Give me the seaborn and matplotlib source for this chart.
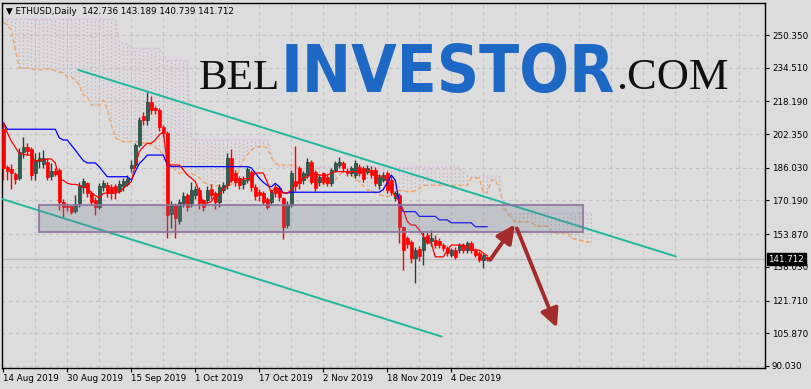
import numpy as np
import pandas as pd
import matplotlib
matplotlib.use("Agg")
import matplotlib.pyplot as plt
import matplotlib.transforms as mtransforms
from matplotlib import font_manager as fm
from matplotlib.patches import Rectangle
import seaborn as sns

# ---------------- data ----------------
symbol_title = "ETHUSD,Daily"
last_ohlc = ["142.736", "143.189", "140.739", "141.712"]
last_price = 141.712

# daily candles, day 0 = 14 Aug 2019
opens = [205, 186.5, 185.3, 183, 181, 193.5, 195.9, 195, 183.7, 189.5,
         188, 188.7, 182, 184.6, 185, 169.6, 167.5, 167.5, 165, 168.8,
         176.6, 178.5, 174, 170.4, 167.2, 176.6, 177.7, 176.6, 177, 175,
         177, 178, 185.8, 187.4, 197, 211.3, 209.2, 218, 215.1, 214,
         206, 202.7, 163.5, 168, 160.5, 168.8, 172.8, 168.8, 172.8, 175.3,
         170.4, 170.4, 175.8, 173.6, 169.6, 175.3, 177.7, 190.6, 183.3, 180.9,
         178, 180.1, 184.2, 176.9, 174.5, 173.7, 171, 169.6, 176.9, 176.1,
         171.2, 158.3, 168, 179.5, 185.8, 180, 182.5, 189, 184.2, 179.3,
         183.3, 181.7, 178.5, 185, 187.4, 188.2, 184.2, 183.4, 182.5, 186.6,
         185.8, 184.2, 185, 185, 177.7, 180.1, 183.3, 180.1, 171.6, 172.8,
         157.5, 151.9, 149.9, 142.2, 146.5, 146.2, 153.5, 150.5, 151.1, 150.6,
         148.6, 147, 143.8, 146.2, 146.2, 148.6, 146.2, 149.4, 146.2, 144.6,
         141.4, 142.736]
highs = [208, 187.5, 188, 184, 195.4, 200.8, 198.2, 196, 193, 193.5,
         194.6, 191, 188.2, 186, 186, 171, 169, 168, 173, 179.3,
         181, 179, 175, 172, 178.8, 180.1, 179, 178, 178, 180,
         181, 182.5, 189.8, 198, 210.5, 213, 222.6, 221, 216, 215,
         207, 204, 170, 169, 171, 174.5, 174, 179.3, 177, 176.5,
         171, 177, 178, 175, 178, 179, 193, 195.3, 185, 182,
         182, 186.6, 185, 178, 176, 175, 172, 176, 178, 177,
         172, 170, 185, 196.6, 187, 184.5, 191, 190, 185, 183,
         184, 183, 186, 189.5, 191.5, 189.5, 186, 187, 190, 188,
         187, 187.5, 187, 186.5, 183, 184, 184.5, 182, 175, 174,
         158, 153, 151, 147.5, 148, 155, 155, 156, 153.5, 152,
         149.5, 148, 147, 147.5, 149.5, 149.5, 150.5, 150.5, 147, 145.5,
         144.5, 143.189]
lows = [180, 180, 176, 178, 180, 191, 192, 180, 180, 186,
        186, 180, 180, 182, 165.6, 162, 165, 163.5, 164, 167,
        174, 172, 168, 163, 166, 175, 172, 171, 171, 174,
        175, 177, 183.8, 186, 196, 207, 207, 212, 212, 204,
        201, 152, 157, 152, 159, 167, 165, 167, 171, 166,
        165, 169, 171, 166, 167, 174, 176, 179, 177, 176,
        176, 178.8, 175, 170.5, 170, 168, 166, 168, 172, 170,
        151.4, 157, 167, 175, 176, 178, 181, 178, 175, 177,
        178, 177, 177, 184, 186, 184, 182, 182, 181, 182,
        179, 183, 181, 177, 176, 179, 174, 173, 170, 149.5,
        136.5, 147, 139.8, 130, 141, 139, 149, 148, 147, 147,
        145.5, 143.5, 143, 142, 145, 145, 145, 145, 143, 140.5,
        137.3, 140.739]
closes = [186, 184.6, 183.4, 180.5, 193.8, 196.2, 194.3, 182.6, 189.8, 190.6,
          190.6, 181.7, 184.6, 183, 169.6, 167, 166.9, 164.8, 168.5, 177.7,
          179.6, 174, 169.6, 167.2, 177.2, 178.5, 173.7, 174, 174.5, 178.2,
          179.5, 180.6, 187.4, 197.1, 209.2, 209.2, 218.1, 214, 214, 206,
          202.7, 163.1, 168.3, 161.5, 169.6, 172.5, 167.2, 175.3, 175.8, 168.8,
          167.2, 175.3, 172.8, 169.3, 176.9, 177.7, 190.6, 180.1, 179.3, 177.7,
          180, 185.3, 176.9, 172.5, 172.9, 169.6, 167.2, 174.5, 173.7, 172.1,
          157.5, 168, 183.4, 177, 178.5, 183.3, 189, 179.3, 176.1, 181.7,
          179.3, 178.5, 185, 188.2, 189, 185.8, 183.4, 185.8, 188.2, 183.4,
          180.4, 185.8, 182.5, 178.5, 181.7, 182.5, 175.3, 174.5, 173.7, 157.5,
          146.2, 149, 142.2, 146.2, 143.5, 152.7, 150.3, 152, 148.6, 148.6,
          147, 144.6, 146.2, 143, 148.6, 146.2, 149.4, 146.2, 143.8, 141.4,
          143.8, 141.712]

# Ichimoku lines as drawn on the chart
tenkan = [208, 203, 199, 196, 193, 192.5, 192.2, 192.2, 189, 189.8,
          189.8, 190.3, 190.3, 188.4, 180.1, 180, 178.6, 178, 178, 177.5,
          176.5, 176.5, 174, 172.6, 171.4, 173.7, 173.7, 173.7, 173.7, 174.4,
          176, 177.7, 179.3, 187.4, 193.8, 196.2, 197.9, 197.9, 199.5, 202,
          203.5, 187.4, 187.4, 187.4, 187.4, 185, 182.6, 181, 179.3, 174.4,
          169, 169, 169.6, 172.9, 173, 176.1, 177, 180.1, 180.1, 180.1,
          180.5, 180.9, 180.9, 183.5, 183.5, 183.5, 179, 173.8, 176.8, 175.5,
          173.8, 173.8, 175.3, 178.6, 178.6, 181, 181.7, 183, 183, 182.5,
          182.5, 182.5, 183.5, 184.2, 184.2, 184.2, 184.2, 184.2, 184.2, 184,
          184, 185, 184, 182.5, 182, 182, 180, 175.3, 172, 170,
          165.6, 160, 158.3, 158.3, 156, 153, 149.6, 149.6, 142.9, 142.9,
          142.9, 146.2, 148.6, 148.6, 148.6, 148.6, 148, 146.2, 146.2, 146.2,
          144.7, 143.5]
kijun = ([208] + [204.7] * 13 + [200.5, 199.5, 199.5, 197, 194.6, 192, 189.5,
         188.4, 188.4, 188.4, 186.5, 184] + [181.7] * 6 + [180.1, 184.2, 188.1, 190]
         + [192.2] * 5 + [187.4] + [186.6] * 20
         + [186, 183.5, 181, 179, 177.5, 176.8, 178.5, 176.8, 173.8, 173.8]
         + [174.2] * 23 + [175.5, 179, 182.5, 180, 169] + [164.8] * 4
         + [162.5] * 5 + [160.8] * 3 + [159.4] * 6 + [157.5] * 4)
span_a = ([256.6, 255, 252.8, 243, 234.4, 234.4, 234.4, 234.0, 233.5, 233.5,
           233.8, 234.0, 233.5, 233.0, 232.5, 232.0, 230, 230, 228.6, 226.1,
           221.3, 220.3, 216.4, 216.4, 216.4, 218.9, 214, 206.8, 200.5, 199.5]
          + [198.7] * 5
          + [198, 198, 197, 196, 194.6, 192.2, 189.8, 187.4, 185, 183.5,
             183.5, 183, 183, 182.5, 181.1, 179.2, 178.2, 177.7]
          + [177.2] * 4
          + [177.7, 181, 185, 189.8, 192.2, 194.6, 196.1, 196.3, 196.3, 195.6,
             190.8, 188.3]
          + [187.4] * 5 + [185, 182.5, 180.1, 179.2] + [178.2] * 4
          + [178.6, 180.1, 182.5, 184, 184, 182.5, 181, 179.2, 177.2, 175.3,
             175, 174, 173, 172.5, 172, 173, 174.5, 175, 175, 174.5,
             174.5, 175, 176]
          + [177.5] * 12
          + [181, 181, 181, 174, 174, 180, 180, 176, 168, 164, 161.7]
          + [159.8] * 5 + [157.8] * 4 + [154.5] * 5
          + [152, 151.5, 151, 150.5, 150, 150])
span_b = ([258] * 29 + [247, 246, 246] + [244] * 8 + [241] + [238] * 6 + [200]
          + [199.5] * 19 + [193, 188] + [186.5] * 46 + [184, 182.5] + [182] * 8
          + [166] + [164] * 22)

date_tick_days = [0, 16, 32, 48, 64, 80, 96, 112]
date_tick_labels = ["14 Aug 2019", "30 Aug 2019", "15 Sep 2019", "1 Oct 2019",
                    "17 Oct 2019", "2 Nov 2019", "18 Nov 2019", "4 Dec 2019"]
price_ticks = [250.350, 234.510, 218.190, 202.350, 186.030, 170.190,
               153.870, 138.030, 121.710, 105.870, 90.030]

# ---------------- styling ----------------
BG = "#dcdcdc"
BULL = "#2f5d50"
BEAR = "#ff0000"
sns.set_theme(style="white", rc={"axes.facecolor": BG, "figure.facecolor": BG})
plt.rcParams["font.family"] = ["DejaVu Sans"]

fig = plt.figure(figsize=(8.11, 3.89), dpi=100)
fig.patch.set_facecolor(BG)
ax = fig.add_axes([2 / 811, 21 / 389, 763 / 811, 365 / 389])
ax.set_facecolor(BG)

# grid
for d in range(8, 190, 8):
    ax.axvline(d, color="#c4c4c4", lw=0.8, dashes=(3, 3), zorder=0)
for p in price_ticks:
    ax.axhline(p, color="#c4c4c4", lw=0.8, dashes=(3, 3), zorder=0)
ax.axhline(last_price, color="#bcbcbc", lw=0.9, zorder=0.5)

# Ichimoku cloud
ich = pd.DataFrame({"day": np.arange(len(span_a)), "span_a": span_a, "span_b": span_b})
bear_cloud = ich.span_b >= ich.span_a
ax.vlines(ich.day[bear_cloud], ich.span_a[bear_cloud], ich.span_b[bear_cloud],
          colors="#d3b3d3", lw=0.9, linestyles=(0, (1.5, 1.5)), zorder=1)
ax.vlines(ich.day[~bear_cloud], ich.span_b[~bear_cloud], ich.span_a[~bear_cloud],
          colors="#efbf98", lw=0.9, linestyles=(0, (1.5, 1.5)), zorder=1)
sns.lineplot(data=ich, x="day", y="span_a", color="#f4a460", lw=1, ax=ax, zorder=2)
ax.lines[-1].set_dashes([3, 2])
sns.lineplot(data=ich, x="day", y="span_b", color="#d8bfd8", lw=1, ax=ax, zorder=2)
ax.lines[-1].set_dashes([1.5, 1.5])

# candles
candles = pd.DataFrame({"day": np.arange(len(opens)), "open": opens, "high": highs,
                        "low": lows, "close": closes})
bull = candles.close >= candles.open
for mask, col, edge in ((bull, BULL, "#22443a"), (~bull, BEAR, BEAR)):
    c = candles[mask]
    ax.vlines(c.day, c.low, c.high, colors=edge, lw=1, zorder=3)
    bottom = np.minimum(c.open, c.close)
    height = np.maximum((c.close - c.open).abs(), 0.4)
    ax.bar(c.day, height, bottom=bottom, width=0.72, color=col, edgecolor=edge,
           lw=0.5, zorder=4)

# Tenkan / Kijun
lines_df = pd.DataFrame({"day": np.arange(len(tenkan)), "tenkan": tenkan, "kijun": kijun})
sns.lineplot(data=lines_df, x="day", y="kijun", color="#0000ff", lw=0.9, ax=ax, zorder=5)
sns.lineplot(data=lines_df, x="day", y="tenkan", color="#ff0000", lw=0.9, ax=ax, zorder=5)

# channel lines
ax.plot([18.75, 168.2], [233.4, 143.06], color="#20b8a0", lw=1.4, zorder=5)
ax.plot([-0.825, 109.55], [171.25, 104.3], color="#20b8a0", lw=1.4, zorder=5)

# support zone rectangle
ax.add_patch(Rectangle((8.98, 155.1), 144.85 - 8.98, 168.0 - 155.1,
                       facecolor=(0.44, 0.49, 0.57, 0.26),
                       edgecolor=(0.55, 0.46, 0.62, 0.85), lw=1.5, zorder=6))

# forecast arrows
arrow_kw = dict(arrowstyle="-|>,head_length=0.55,head_width=0.27", color="#a52a2a",
                lw=2.8, mutation_scale=20, shrinkA=0, shrinkB=0)
ax.annotate("", xy=(127.9, 158.6), xytext=(121.7, 141.4), arrowprops=arrow_kw, zorder=8)
ax.annotate("", xy=(138.4, 108.6), xytext=(128.4, 156.6), arrowprops=arrow_kw, zorder=8)

# axes
ax.set_xlim(-0.325, 190.425)
ax.set_ylim(89.06, 265.85)
ax.set_xlabel("")
ax.set_ylabel("")
for s in ax.spines.values():
    s.set_color("black")
    s.set_linewidth(1)
ax.yaxis.tick_right()
ax.set_yticks(price_ticks)
ax.set_yticklabels([f"{p:.3f}" for p in price_ticks])
ax.tick_params(axis="y", right=True, left=False, length=3, width=0.8, pad=2,
               labelsize=6.3, colors="black")
ax.set_xticks(date_tick_days)
ax.set_xticklabels(date_tick_labels)
ax.tick_params(axis="x", bottom=True, length=3, width=0.8, pad=1.5,
               labelsize=6.3, colors="black")
for t in ax.get_xticklabels():
    t.set_ha("left")

# last price label
blend = mtransforms.blended_transform_factory(fig.transFigure, ax.transData)
fig.text(768.5 / 811, last_price, last_ohlc[3], transform=blend, ha="left", va="center",
         fontsize=6.3, color="white",
         bbox=dict(boxstyle="square,pad=0.18", fc="black", ec="black"), zorder=10)

# header
fig.text(6 / 811, 1 - 11 / 389, "\u25bc " + symbol_title + "  " + " ".join(last_ohlc),
         ha="left", va="center", fontsize=6.3, color="black", zorder=10)

# ---------------- watermark ----------------
def pick_condensed_bold():
    best = None
    for f in fm.fontManager.ttflist:
        nm = f.name
        st = str(f.stretch).lower()
        narrow = ("Narrow" in nm or "Condensed" in nm or "condensed" in st)
        if not narrow or "Serif" in nm or "Mono" in nm:
            continue
        w = f.weight if isinstance(f.weight, int) else (700 if "bold" in str(f.weight).lower() else 400)
        score = abs(w - 700) + (0 if "extra" not in st and "ultra" not in st else 150)
        if best is None or score < best[0]:
            best = (score, f.fname)
    return best[1] if best else None

fname = pick_condensed_bold()
if fname:
    inv_prop = fm.FontProperties(fname=fname, size=57)
else:
    inv_prop = fm.FontProperties(family=["Lato", "Liberation Sans"], weight="bold", size=57)

fig.canvas.draw()
rend = fig.canvas.get_renderer()
inv = fig.text(281 / 811, 1 - 92 / 389, "INVESTOR", fontproperties=inv_prop,
               color="#1c68c4", ha="left", va="baseline", zorder=9)
bb = inv.get_window_extent(renderer=rend)
target_w = 334.0
if bb.width > target_w:
    inv.set_fontsize(57 * target_w / bb.width)
bb = inv.get_window_extent(renderer=rend)
fig.text((bb.x0 - 1) / 811, 1 - 89 / 389, "BEL", fontsize=31, color="#111111",
         family=["Liberation Serif", "DejaVu Serif"], ha="right", va="baseline", zorder=9)
fig.text((bb.x1 + 1) / 811, 1 - 89 / 389, ".COM", fontsize=32, color="#111111",
         family=["Liberation Serif", "DejaVu Serif"], ha="left", va="baseline", zorder=9)

fig.savefig("out.png", dpi=100, facecolor=BG)
